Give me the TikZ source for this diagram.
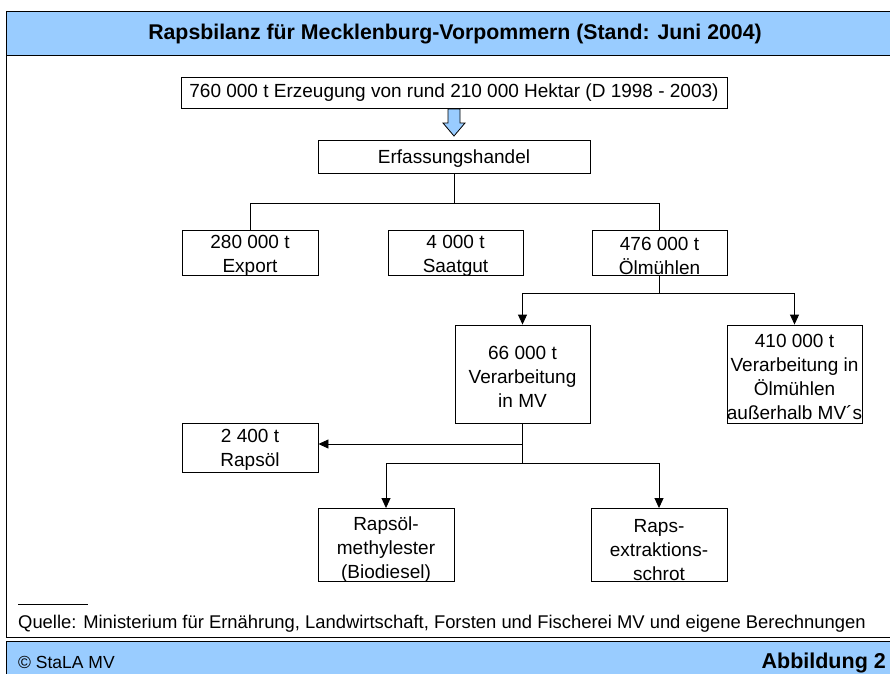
\documentclass[tikz,border=0pt]{standalone}
\usepackage{fontspec}
\setmainfont{Liberation Sans}
\usetikzlibrary{arrows.meta}
\definecolor{bandblue}{HTML}{99CCFF}
\tikzset{
  box/.style={draw, line width=0.9pt, inner sep=0pt},
  tx/.style={inner sep=0pt, align=center, font=\fontsize{19}{24}\selectfont},
  conn/.style={line width=0.9pt},
  arr/.style={line width=0.9pt, -{Triangle[width=9pt,length=10pt]}},
  txt/.style={inner sep=0pt, font=\fontsize{18.4}{20}\selectfont}
}
\begin{document}
\begin{tikzpicture}[x=1pt,y=-1pt]
\useasboundingbox (0,0) rectangle (890,673);
\clip (0,0) rectangle (890,673);
% frame and bands
\draw[line width=0.9pt] (6,11) rectangle (895,637);
\draw[line width=0.9pt, fill=bandblue] (6,11) rectangle (895,55);
\draw[line width=0.9pt, fill=bandblue] (6,641) rectangle (895,680);
\node[inner sep=0pt, font=\fontsize{21.3}{24}\selectfont\bfseries] (title) at (455,34.5) {Rapsbilanz für Mecklenburg-Vorpommern (Stand: Juni 2004)};
% boxes
\node[box, minimum width=546pt, minimum height=31pt] (top) at (454,92.5) {};
\node[box, minimum width=272pt, minimum height=33pt] (erf) at (454,156.5) {};
\node[box, minimum width=136pt, minimum height=45pt] (export) at (250,252.5) {};
\node[box, minimum width=135pt, minimum height=45pt] (saat) at (455.5,252.5) {};
\node[box, minimum width=135pt, minimum height=45pt] (oel) at (659.5,252.5) {};
\node[box, minimum width=135pt, minimum height=98pt] (mv) at (522.5,374) {};
\node[box, minimum width=135pt, minimum height=98pt] (aus) at (794.5,374) {};
\node[box, minimum width=136pt, minimum height=49pt] (rapsoel) at (250,447.5) {};
\node[box, minimum width=136pt, minimum height=73pt] (rme) at (386,545) {};
\node[box, minimum width=136pt, minimum height=73pt] (schrot) at (659,545) {};
% box texts
\node[tx] (topt) at ([yshift=-0.5pt]top.center) {760 000 t Erzeugung von rund 210 000 Hektar (D 1998 - 2003)};
\node[tx] (erft) at ([yshift=-2pt]erf.center) {Erfassungshandel};
\node[tx] (exportt) at ([yshift=-3pt]export.center) {280 000 t\\Export};
\node[tx] (saatt) at ([yshift=-3pt]saat.center) {4 000 t\\Saatgut};
\node[tx] (oelt) at ([yshift=-3pt]oel.center) {476 000 t\\Ölmühlen};
\node[tx] (mvt) at ([yshift=-3pt]mv.center) {66 000 t\\Verarbeitung\\in MV};
\node[tx] (aust) at ([yshift=-3pt]aus.center) {410 000 t\\Verarbeitung in\\Ölmühlen\\außerhalb MV´s};
\node[tx] (rapsoelt) at ([yshift=-2.5pt]rapsoel.center) {2 400 t\\Rapsöl};
\node[tx] (rmet) at ([yshift=-5pt]rme.center) {Rapsöl-\\methylester\\(Biodiesel)};
\node[tx] (schrott) at ([yshift=-5pt]schrot.center) {Raps-\\extraktions-\\schrot};
% block arrow
\draw[line width=0.8pt, fill=bandblue] (448,109) -- (460,109) -- (460,123) -- (465,123) -- (454,136) -- (443,123) -- (448,123) -- cycle;
% connectors
\coordinate (j1) at (454,203);
\coordinate (j2) at (659.5,293);
\coordinate (j3) at (522.5,463);
\coordinate (j4) at (522.5,444);
\draw[conn] (erf.south) -- (j1);
\draw[conn] (export.north) -- (export.north |- j1) -- (oel.north |- j1) -- (oel.north);
\draw[conn] (oel.south) -- (j2);
\draw[arr] (mv.north |- j2) -- (mv.north);
\draw[arr] (mv.north |- j2) -- (aus.north |- j2) -- (aus.north);
\draw[conn] (mv.south) -- (j3);
\draw[arr] (j4) -- (rapsoel.east |- j4);
\draw[arr] (j3) -- (rme.north |- j3) -- (rme.north);
\draw[arr] (j3) -- (schrot.north |- j3) -- (schrot.north);
% source
\draw[line width=0.7pt] (18,604) -- (88,604);
\node[txt, anchor=west] (quelle) at (18,624) {Quelle: Ministerium für Ernährung, Landwirtschaft, Forsten und Fischerei MV und eigene Berechnungen};
\node[txt, anchor=west, font=\fontsize{17.5}{20}\selectfont] (stala) at (18,662) {© StaLA MV};
\node[txt, anchor=east, font=\fontsize{21.5}{24}\selectfont\bfseries] (abb) at (886,663) {Abbildung 2};
\end{tikzpicture}
\end{document}
